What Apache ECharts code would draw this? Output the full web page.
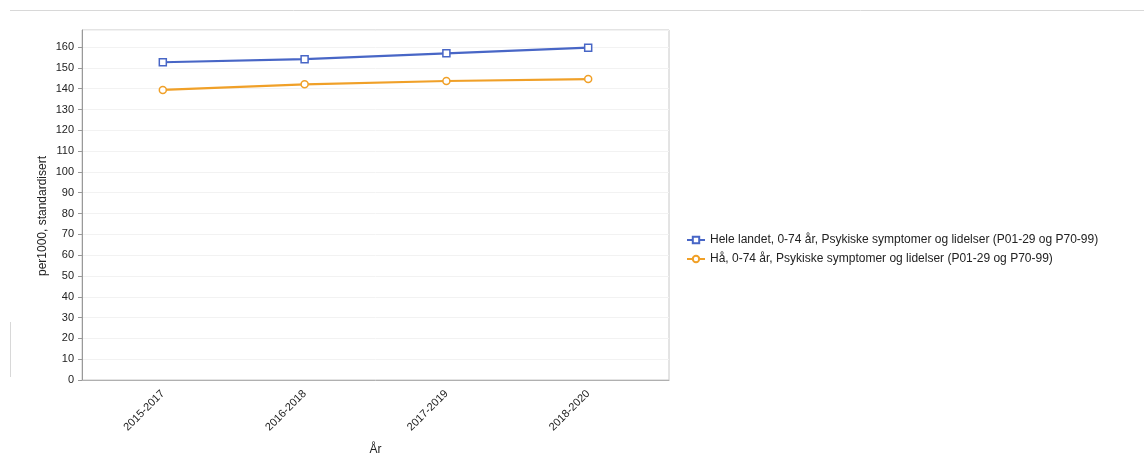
<!DOCTYPE html>
<html><head><meta charset="utf-8">
<script src="https://cdn.jsdelivr.net/npm/echarts@6/dist/echarts.min.js"></script>
<style>html,body{margin:0;padding:0;background:#fff}#c{width:1144px;height:455px}</style>
</head><body><div id="c"></div>
<script>
const categories = ['2015-2017', '2016-2018', '2017-2019', '2018-2020'];
const heleLandet = [152.7, 154.2, 157.0, 159.7];
const haa = [139.4, 142.1, 143.7, 144.6];
const seriesNames = ['Hele landet, 0-74 år, Psykiske symptomer og lidelser (P01-29 og P70-99)', 'Hå, 0-74 år, Psykiske symptomer og lidelser (P01-29 og P70-99)'];

const chart = echarts.init(document.getElementById('c'));
const font = 'Liberation Sans, Arial, sans-serif';
const toPts = arr => arr.map((v, i) => [i, v]);
chart.setOption({
  animation: false,
  textStyle: { fontFamily: font },
  graphic: [
    { type: 'line', shape: { x1: 10, y1: 10.5, x2: 1144, y2: 10.5 }, style: { stroke: '#d8d8d8', lineWidth: 1 } },
    { type: 'line', shape: { x1: 10.5, y1: 322, x2: 10.5, y2: 377 }, style: { stroke: '#d8d8d8', lineWidth: 1 } }
  ],
  grid: { left: 82, top: 30, width: 587, height: 350, outerBoundsMode: 'none', containLabel: false,
    show: true, borderColor: '#c8c8c8', borderWidth: 1, backgroundColor: '#fff' },
  legend: {
    orient: 'vertical', left: 681, top: 229, itemGap: 7, itemWidth: 18, itemHeight: 8,
    textStyle: { fontSize: 12, color: '#222', fontFamily: font },
    data: seriesNames
  },
  xAxis: {
    type: 'value', min: -0.57, max: 3.57,
    name: 'År', nameLocation: 'middle', nameGap: 64, nameMoveOverlap: false,
    nameTextStyle: { fontSize: 12, color: '#222' },
    axisLine: { show: true, onZero: false, lineStyle: { color: '#b0b0b0' } },
    axisTick: { show: false },
    splitLine: { show: false },
    axisLabel: {
      customValues: [0, 1, 2, 3], rotate: 45, fontSize: 11, color: '#222', margin: 12,
      formatter: v => categories[Math.round(v)]
    }
  },
  yAxis: {
    type: 'value', min: 0, max: 168.2, interval: 10,
    name: 'per1000, standardisert', nameLocation: 'middle', nameGap: 33, nameMoveOverlap: false,
    nameTextStyle: { fontSize: 12, color: '#222', padding: [0, 22, 0, 0] },
    axisLine: { show: true, onZero: false, lineStyle: { color: '#999' } },
    axisTick: { show: true, length: 4, lineStyle: { color: '#999' } },
    splitLine: { show: true, lineStyle: { color: '#f2f2f2' } },
    axisLabel: { fontSize: 11, color: '#222', margin: 8, showMaxLabel: false }
  },
  series: [
    { name: seriesNames[0], type: 'line', data: toPts(heleLandet), symbol: 'rect', symbolSize: 7,
      itemStyle: { color: '#fff', borderColor: '#4866c6', borderWidth: 1.5 },
      lineStyle: { color: '#4866c6', width: 2.2 } },
    { name: seriesNames[1], type: 'line', data: toPts(haa), symbol: 'circle', symbolSize: 7,
      itemStyle: { color: '#fff', borderColor: '#f0a028', borderWidth: 1.5 },
      lineStyle: { color: '#f0a028', width: 2.2 } }
  ]
});
</script></body></html>
